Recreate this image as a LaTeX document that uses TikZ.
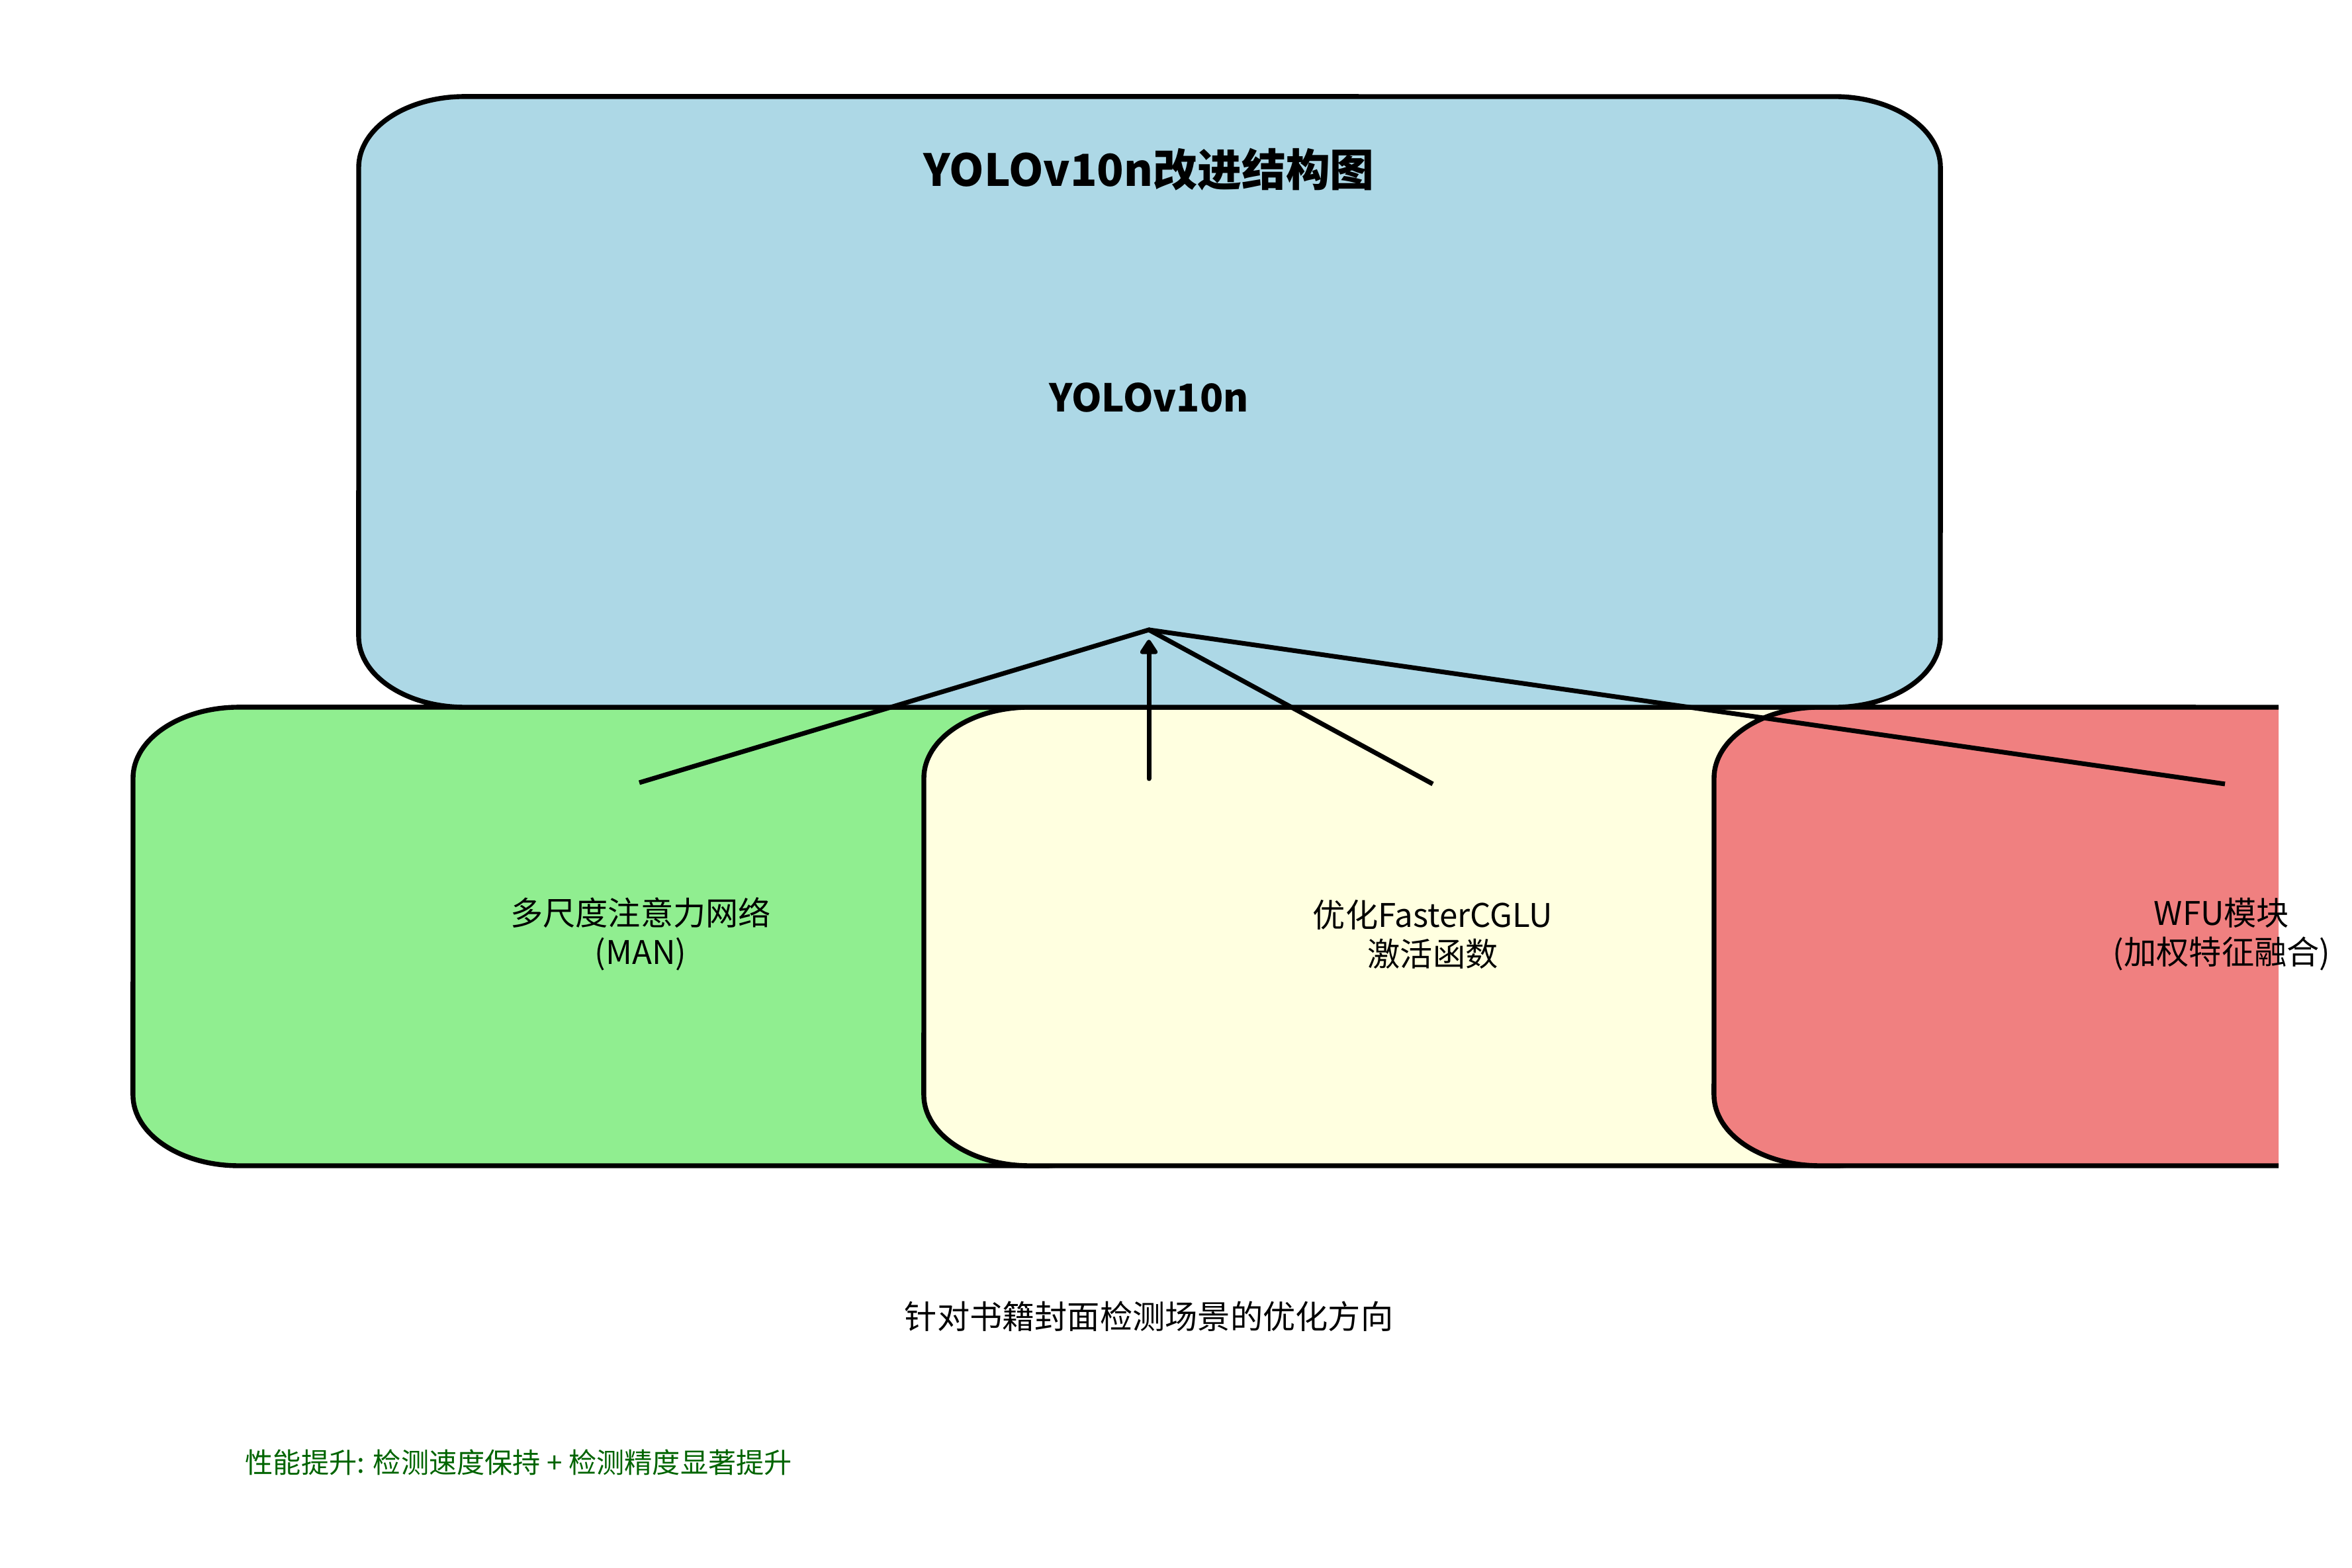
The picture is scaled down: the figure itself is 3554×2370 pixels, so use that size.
\documentclass[tikz,border=0pt]{standalone}
\usepackage{fontspec}
\setmainfont{Noto Sans CJK SC}
\usetikzlibrary{arrows.meta}
\definecolor{boxblue}{HTML}{ADD8E6}
\definecolor{boxgreen}{HTML}{90EE90}
\definecolor{boxyellow}{HTML}{FFFFE0}
\definecolor{boxred}{HTML}{F08080}
\definecolor{perfgreen}{HTML}{006400}
% elliptical rounded rectangle: x1,y1 (bottom-left), x2,y2 (top-right)
\newcommand{\erect}[4]{({#1},{#4-107}) arc[start angle=180,end angle=90,x radius=1.6cm,y radius=1.07cm] -- ({#3-160},{#4}) arc[start angle=90,end angle=0,x radius=1.6cm,y radius=1.07cm] -- ({#3},{#2+107}) arc[start angle=0,end angle=-90,x radius=1.6cm,y radius=1.07cm] -- ({#1+160},{#2}) arc[start angle=270,end angle=180,x radius=1.6cm,y radius=1.07cm] -- cycle}
\tikzset{
  boxline/.style={draw=black,line width=2.1pt},
  conn/.style={draw=black,line width=2pt},
  lbl/.style={font=\fontsize{14pt}{16.8pt}\selectfont,align=center,inner sep=0pt},
}
\begin{document}
\begin{tikzpicture}[x=0.01cm,y=0.01cm]
\useasboundingbox (0,0) rectangle (3554,2370);
% bottom boxes
\path[boxline,fill=boxgreen] \erect{201}{608}{1735}{1301};
\path[boxline,fill=boxyellow] \erect{1396}{608}{2930}{1301};
\begin{scope}
\clip (0,0) rectangle (3443,2370);
\path[boxline,fill=boxred] \erect{2590}{608}{4124}{1301};
\end{scope}
% top box
\path[boxline,fill=boxblue] \erect{542}{1301}{2932}{2224};
% texts
\node[inner sep=0pt,font=\fontsize{19pt}{22pt}\selectfont\bfseries] (title) at (1736,2114) {YOLOv10n改进结构图};
\node[inner sep=0pt,font=\fontsize{16.5pt}{20pt}\selectfont\bfseries] (yolo) at (1736,1769) {YOLOv10n};
\node[lbl] (man) at (968,958) {多尺度注意力网络\\(MAN)};
\node[lbl] (cglu) at (2165,958) {优化FasterCGLU\\激活函数};
\node[lbl] (wfu) at (3357,958) {WFU模块\\(加权特征融合)};
\node[lbl] (dir) at (1736,380) {针对书籍封面检测场景的优化方向};
\node[inner sep=0pt,anchor=west,text=perfgreen,font=\fontsize{12pt}{14pt}\selectfont] (perf) at (370,160) {性能提升: 检测速度保持 + 检测精度显著提升};
% connectors
\coordinate (apex) at (1736,1418);
\coordinate (manend) at (966,1187);
\coordinate (cgluend) at (2165,1185);
\coordinate (wfuend) at (3362,1185);
\coordinate (arrowfoot) at (1736,1193);
\draw[conn] (manend) -- (apex) -- (cgluend);
\draw[conn] (apex) -- (wfuend);
\draw[conn,line cap=round,-{Triangle[length=7pt,width=8.5pt,round]},shorten >=0.15cm] (arrowfoot) -- (apex);
\end{tikzpicture}
\end{document}
